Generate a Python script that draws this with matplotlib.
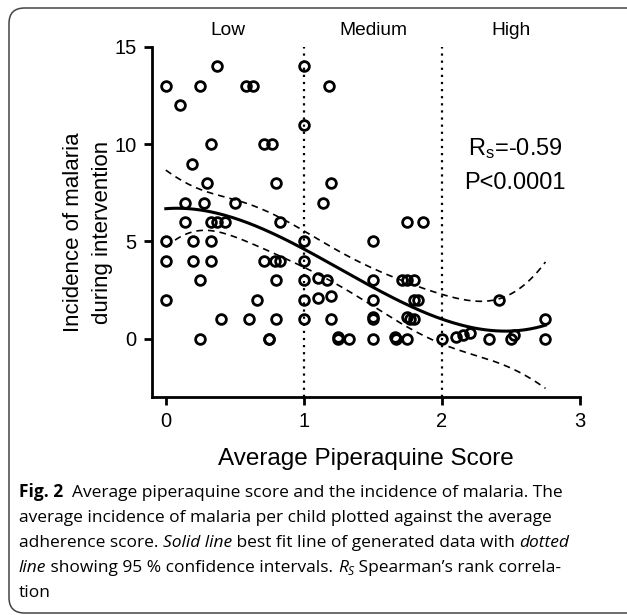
import numpy as np
import matplotlib
matplotlib.use("Agg")
import matplotlib.pyplot as plt
from matplotlib.patches import FancyBboxPatch

# adherence score / malaria episodes per child
score = [0, 0.25, 0.58, 0.63, 0.1, 0.37,
         0.33, 0.71, 0.77, 0.19, 0.3, 0.8,
         0.14, 0.28, 0.5,
         0.14, 0.33, 0.37, 0.43, 0.83,
         0, 0.2, 0.33,
         0, 0.2, 0.33, 0.71, 0.79, 0.83,
         0.25, 0.8,
         0, 0.66,
         0.4, 0.6, 0.8,
         0.25, 0.75, 0.75,
         1, 1, 1, 1, 1, 1, 1,
         1.18, 1.2, 1.14, 1.75, 1.86, 1.5,
         1.1, 1.17, 1.5, 1.71, 1.75, 1.8,
         1.1, 1.2, 1.5, 1.8, 1.83,
         1.2, 1.5, 1.5, 1.75, 1.77, 1.8,
         1.25, 1.25, 1.33, 1.5, 1.66, 1.67, 1.75,
         2.0, 2.1, 2.15, 2.2, 2.34, 2.5, 2.52, 2.75, 2.75, 2.41]
incidence = [13, 13, 13, 13, 12, 14,
             10, 10, 10, 9, 8, 8,
             7, 7, 7,
             6, 6, 6, 6, 6,
             5, 5, 5,
             4, 4, 4, 4, 4, 4,
             3, 3,
             2, 2,
             1, 1, 1,
             0, 0, 0,
             14, 11, 5, 4, 3, 2, 1,
             13, 8, 7, 6, 6, 5,
             3.1, 3, 3, 3, 3, 3,
             2.1, 2.2, 2, 2, 2,
             1, 1.1, 1, 1.1, 1, 1,
             0.1, 0, 0, 0, 0.1, 0, 0,
             0, 0.1, 0.2, 0.3, 0, 0, 0.17, 0, 1, 2]
groups = ["Low", "Medium", "High"]
group_x = [0.45, 1.5, 2.5]
cutoffs = [1, 2]

x = np.array(score)
y = np.array(incidence)

# cubic best fit with confidence band of the mean
coef = np.polyfit(x, y, 3)
X = np.vander(x, 4)
resid = y - X @ coef
dof = len(x) - 4
s2 = resid @ resid / dof
cov = s2 * np.linalg.inv(X.T @ X)
xf = np.linspace(0, x.max(), 200)
Xf = np.vander(xf, 4)
yf = Xf @ coef
se = np.sqrt(np.einsum("ij,jk,ik->i", Xf, cov, Xf))
t = 1.65
lo, hi = yf - t * se, yf + t * se

SANS = "Liberation Sans"
plt.rcParams["font.family"] = SANS
plt.rcParams["mathtext.fontset"] = "custom"
plt.rcParams["mathtext.rm"] = SANS
plt.rcParams["mathtext.it"] = SANS + ":italic"

W, H = 627, 615
fig = plt.figure(figsize=(W / 100, H / 100), dpi=100)
fig.patch.set_facecolor("white")

# rounded frame round figure + caption
fig.patches.append(FancyBboxPatch((9 / W, 2 / H), 640 / W, 605 / H,
                                  boxstyle="round,pad=0,rounding_size=0.025",
                                  transform=fig.transFigure, fc="none", ec="#444444", lw=1.1))

ax = fig.add_axes([152 / W, 1 - 397 / H, (580 - 152) / W, (397 - 47) / H])
ax.set_xlim(-0.1, 3)
ax.set_ylim(-3, 15)
for s in ("top", "right"):
    ax.spines[s].set_visible(False)
for s in ("left", "bottom"):
    ax.spines[s].set_linewidth(2)
ax.set_xticks([0, 1, 2, 3])
ax.set_yticks([0, 5, 10, 15])
ax.tick_params(width=2, length=6, labelsize=14.5, pad=5)

for c in cutoffs:
    ax.axvline(c, color="black", ls=(0, (1, 2.2)), lw=1.6)

ax.plot(x, y, "o", ms=7, mfc="none", mec="black", mew=2, clip_on=False)
ax.plot(xf, yf, color="black", lw=2.2)
ax.plot(xf, lo, color="black", lw=1.2, ls=(0, (4, 3)))
ax.plot(xf, hi, color="black", lw=1.2, ls=(0, (4, 3)))

for g, gx in zip(groups, group_x):
    ax.text(gx, 15.4, g, ha="center", va="bottom", fontsize=13.8)

ax.text(2.53, 9.8, "R$_\\mathregular{s}$=-0.59", ha="center", va="center", fontsize=17)
ax.text(2.53, 8.0, "P<0.0001", ha="center", va="center", fontsize=17)

ax.set_xlabel("Average Piperaquine Score", fontsize=17.5, labelpad=12)
ax.set_ylabel("Incidence of malaria\nduring intervention", fontsize=16, linespacing=1.5)
ax.yaxis.set_label_coords(-0.091, 0.471)

# caption, placed piece by piece
CAP = "Open Sans"
fig.canvas.draw()
r = fig.canvas.get_renderer()
probe = fig.text(0, 0, "average incidence of malaria per child plotted against the average",
                 fontsize=10, family=CAP)
wpx = probe.get_window_extent(r).width
probe.remove()
cs = 10 * 532 / wpx

lines = [
    [("Fig. 2", "bold"), ("  Average piperaquine score and the incidence of malaria. The", "")],
    [("average incidence of malaria per child plotted against the average", "")],
    [("adherence score. ", ""), ("Solid line", "it"), (" best fit line of generated data with ", ""),
     ("dotted", "it")],
    [("line", "it"), (" showing 95 % confidence intervals. ", ""), ("R", "it"), ("S", "sub"),
     (" Spearman\u2019s rank correla-", "")],
    [("tion", "")],
]
base = [497, 522, 547, 572, 597]
for parts, b in zip(lines, base):
    xp = 19
    for txt, sty in parts:
        kw = dict(fontsize=cs, family=CAP, va="baseline")
        yb = b
        if sty == "bold":
            kw["weight"] = "bold"
        elif sty == "it":
            kw["style"] = "italic"
        elif sty == "sub":
            kw["style"] = "italic"
            kw["fontsize"] = cs * 0.7
            yb = b + 3
        tx = fig.text(xp / W, 1 - yb / H, txt, **kw)
        xp += tx.get_window_extent(r).width

fig.savefig("out.png", dpi=100, facecolor="white")
